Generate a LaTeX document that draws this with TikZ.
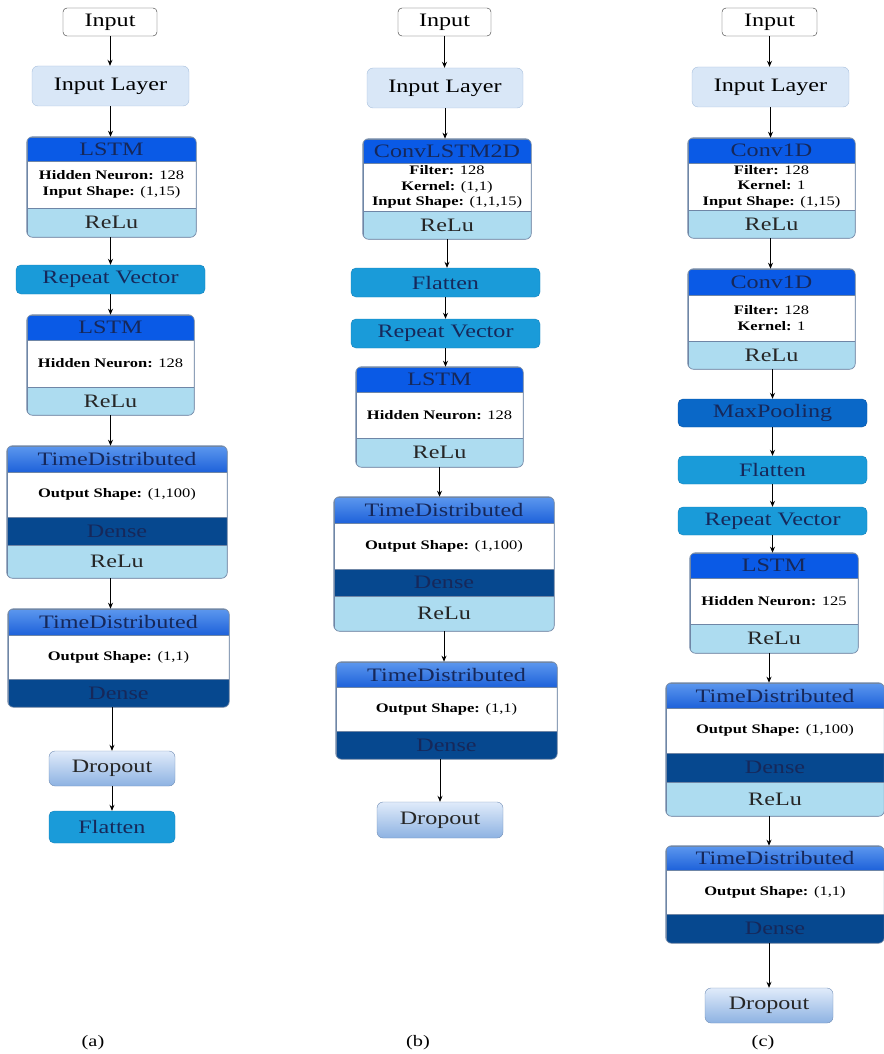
\documentclass[tikz,border=0pt]{standalone}
\usepackage{fontspec}
\setmainfont{Liberation Serif}[FakeStretch=1.27]
\usetikzlibrary{arrows.meta}

\definecolor{hdblue}{HTML}{0A5AE6}
\definecolor{tdtop}{HTML}{5C97EE}
\definecolor{tdbot}{HTML}{1E62DA}
\definecolor{navy}{HTML}{16285A}
\definecolor{relublue}{HTML}{ADDCF0}
\definecolor{densblue}{HTML}{06488F}
\definecolor{barblue}{HTML}{1A9BD9}
\definecolor{barline}{HTML}{1580B9}
\definecolor{poolblue}{HTML}{0A68C8}
\definecolor{layfill}{HTML}{D9E7F7}
\definecolor{layline}{HTML}{A8BFDC}
\definecolor{droptop}{HTML}{E0EBFA}
\definecolor{dropbot}{HTML}{8DB2E2}
\definecolor{framecol}{HTML}{6F86A6}

\newcommand{\bigfont}{\fontsize{19}{22}\selectfont}
\newcommand{\smallfont}{\fontsize{13}{15.5}\selectfont}
\newcommand{\blockframe}[2]{%
  \fill[white,even odd rule] ([shift={(-3,-3)}]#1.north west) rectangle ([shift={(3,3)}]#2.south east)
    [rounded corners=6pt] (#1.north west) rectangle (#2.south east);
  \draw[framecol,line width=0.7pt,rounded corners=6pt] (#1.north west) rectangle (#2.south east);}

\tikzset{
  band/.style={draw=framecol, line width=0.6pt, inner sep=0pt, align=center, minimum width=#1pt},
  hdband/.style={band=#1, fill=hdblue, text=navy, font=\bigfont},
  tdband/.style={band=#1, top color=tdtop, bottom color=tdbot, text=navy, font=\bigfont},
  bodyband/.style={band=#1, fill=white, text=black, font=\smallfont},
  reluband/.style={band=#1, fill=relublue, text=black!85, font=\bigfont},
  denseband/.style={band=#1, fill=densblue, text=navy, font=\bigfont},
  inbox/.style={draw=black!80, fill=white, rounded corners=4pt, inner sep=0pt,
    minimum width=94pt, minimum height=28pt, font=\bigfont},
  layerbox/.style={draw=layline, fill=layfill, rounded corners=6pt, inner sep=0pt,
    minimum width=157pt, minimum height=40pt, font=\bigfont},
  barbox/.style={draw=barline, fill=barblue, rounded corners=5pt, inner sep=0pt,
    minimum width=189pt, minimum height=29pt, font=\bigfont, text=navy},
  poolbox/.style={barbox, draw=poolblue!80!black, fill=poolblue},
  dropbox/.style={draw=dropbot!80!black, top color=droptop, bottom color=dropbot, rounded corners=6pt,
    inner sep=0pt, minimum width=126pt, minimum height=35pt, font=\bigfont, text=black!85},
  caption/.style={font=\fontsize{16}{18}\selectfont},
  arr/.style={-{Stealth[length=6pt,width=5pt]}, line width=0.8pt, black}
}

\begin{document}
\begin{tikzpicture}[x=1pt,y=-1pt]
  \useasboundingbox (0,0) rectangle (883,1054);

  % (a)
  \node[inbox] (inA) at (110,22) {Input};
  \node[layerbox] (layA) at (110.5,86) {Input Layer};
  \node[hdband=169, minimum height=24pt] (lstmA-h) at (111.5,149) {LSTM};
  \node[bodyband=169, minimum height=47pt] (lstmA-b) at (111.5,184.5) {\textbf{Hidden Neuron:} 128\\\textbf{Input Shape:} (1,15)};
  \node[reluband=169, minimum height=29pt] (lstmA-r) at (111.5,222.5) {ReLu};
  \blockframe{lstmA-h}{lstmA-r}
  \node[barbox] (repA) at (110.5,279.5) {Repeat Vector};
  \node[hdband=167, minimum height=25pt] (lstm2A-h) at (110.5,327.5) {LSTM};
  \node[bodyband=167, minimum height=47pt] (lstm2A-b) at (110.5,363.5) {\textbf{Hidden Neuron:} 128};
  \node[reluband=167, minimum height=28pt] (lstm2A-r) at (110.5,401) {ReLu};
  \blockframe{lstm2A-h}{lstm2A-r}
  \node[tdband=220, minimum height=26pt] (td1A-h) at (117,459) {TimeDistributed};
  \node[bodyband=220, minimum height=45pt] (td1A-b) at (117,494.5) {\textbf{Output Shape:} (1,100)};
  \node[denseband=220, minimum height=28pt] (td1A-d) at (117,531) {Dense};
  \node[reluband=220, minimum height=33pt] (td1A-r) at (117,561.5) {ReLu};
  \blockframe{td1A-h}{td1A-r}
  \node[tdband=221, minimum height=26pt] (td2A-h) at (118.5,622) {TimeDistributed};
  \node[bodyband=221, minimum height=44pt] (td2A-b) at (118.5,657) {\textbf{Output Shape:} (1,1)};
  \node[denseband=221, minimum height=28pt] (td2A-d) at (118.5,693) {Dense};
  \blockframe{td2A-h}{td2A-d}
  \node[dropbox] (dropA) at (112,768.5) {Dropout};
  \node[barbox, minimum width=126pt, minimum height=32pt] (flatA) at (112,827) {Flatten};
  \node[caption] (capA) at (93,1043) {(a)};

  \draw[arr] (inA.south) -- (inA.south |- layA.north);
  \draw[arr] (layA.south) -- (layA.south |- lstmA-h.north);
  \draw[arr] (layA.south |- lstmA-r.south) -- (layA.south |- repA.north);
  \draw[arr] (repA.south) -- (repA.south |- lstm2A-h.north);
  \draw[arr] (lstm2A-r.south) -- (lstm2A-r.south |- td1A-h.north);
  \draw[arr] (td1A-r.south -| lstm2A-r.south) -- (lstm2A-r.south |- td2A-h.north);
  \draw[arr] (td2A-d.south -| dropA.north) -- (dropA.north);
  \draw[arr] (dropA.south) -- (flatA.north);

  % (b)
  \node[inbox, minimum width=93pt] (inB) at (444.5,22) {Input};
  \node[layerbox, minimum width=156pt] (layB) at (445,88) {Input Layer};
  \node[hdband=168, minimum height=24pt] (convB-h) at (447,151) {ConvLSTM2D};
  \node[bodyband=168, minimum height=48pt] (convB-b) at (447,187) {\textbf{Filter:} 128\\\textbf{Kernel:} (1,1)\\\textbf{Input Shape:} (1,1,15)};
  \node[reluband=168, minimum height=28pt] (convB-r) at (447,225) {ReLu};
  \blockframe{convB-h}{convB-r}
  \node[barbox] (flatB) at (445.5,282.5) {Flatten};
  \node[barbox] (repB) at (445.5,333.5) {Repeat Vector};
  \node[hdband=167, minimum height=25pt] (lstmB-h) at (439.5,379.5) {LSTM};
  \node[bodyband=167, minimum height=46pt] (lstmB-b) at (439.5,415) {\textbf{Hidden Neuron:} 128};
  \node[reluband=167, minimum height=29pt] (lstmB-r) at (439.5,452.5) {ReLu};
  \blockframe{lstmB-h}{lstmB-r}
  \node[tdband=220, minimum height=26pt] (td1B-h) at (444,510) {TimeDistributed};
  \node[bodyband=220, minimum height=46pt] (td1B-b) at (444,546) {\textbf{Output Shape:} (1,100)};
  \node[denseband=220, minimum height=27pt] (td1B-d) at (444,582.5) {Dense};
  \node[reluband=220, minimum height=35pt] (td1B-r) at (444,613.5) {ReLu};
  \blockframe{td1B-h}{td1B-r}
  \node[tdband=221, minimum height=25pt] (td2B-h) at (446.5,674.5) {TimeDistributed};
  \node[bodyband=221, minimum height=44pt] (td2B-b) at (446.5,709) {\textbf{Output Shape:} (1,1)};
  \node[denseband=221, minimum height=28pt] (td2B-d) at (446.5,745) {Dense};
  \blockframe{td2B-h}{td2B-d}
  \node[dropbox, minimum height=36pt] (dropB) at (440,820) {Dropout};
  \node[caption] (capB) at (418,1043) {(b)};

  \draw[arr] (inB.south) -- (inB.south |- layB.north);
  \draw[arr] (layB.south) -- (layB.south |- convB-h.north);
  \draw[arr] (convB-r.south) -- (convB-r.south |- flatB.north);
  \draw[arr] (flatB.south) -- (flatB.south |- repB.north);
  \draw[arr] (repB.south) -- (repB.south |- lstmB-h.north);
  \draw[arr] (lstmB-r.south) -- (lstmB-r.south |- td1B-h.north);
  \draw[arr] (td1B-r.south) -- (td1B-r.south |- td2B-h.north);
  \draw[arr] (td2B-d.south -| dropB.north) -- (dropB.north);

  % (c)
  \node[inbox, minimum width=95pt] (inC) at (769.5,22) {Input};
  \node[layerbox] (layC) at (770.5,87) {Input Layer};
  \node[hdband=167, minimum height=25pt] (conv1C-h) at (771.5,150.5) {Conv1D};
  \node[bodyband=167, minimum height=47pt] (conv1C-b) at (771.5,186.5) {\textbf{Filter:} 128\\\textbf{Kernel:} 1\\\textbf{Input Shape:} (1,15)};
  \node[reluband=167, minimum height=28pt] (conv1C-r) at (771.5,224) {ReLu};
  \blockframe{conv1C-h}{conv1C-r}
  \node[hdband=167, minimum height=26pt] (conv2C-h) at (771.5,282) {Conv1D};
  \node[bodyband=167, minimum height=46pt] (conv2C-b) at (771.5,318) {\textbf{Filter:} 128\\\textbf{Kernel:} 1};
  \node[reluband=167, minimum height=28pt] (conv2C-r) at (771.5,355) {ReLu};
  \blockframe{conv2C-h}{conv2C-r}
  \node[poolbox, minimum height=28pt] (poolC) at (772.5,413) {MaxPooling};
  \node[barbox, minimum height=28pt] (flatC) at (772.5,470) {Flatten};
  \node[barbox, minimum height=28pt] (repC) at (772.5,521) {Repeat Vector};
  \node[hdband=168, minimum height=25pt] (lstmC-h) at (774,565.5) {LSTM};
  \node[bodyband=168, minimum height=46pt] (lstmC-b) at (774,601) {\textbf{Hidden Neuron:} 125};
  \node[reluband=168, minimum height=29pt] (lstmC-r) at (774,638.5) {ReLu};
  \blockframe{lstmC-h}{lstmC-r}
  \node[tdband=218, minimum height=25pt] (td1C-h) at (775,695.5) {TimeDistributed};
  \node[bodyband=218, minimum height=45pt] (td1C-b) at (775,730.5) {\textbf{Output Shape:} (1,100)};
  \node[denseband=218, minimum height=29pt] (td1C-d) at (775,767.5) {Dense};
  \node[reluband=218, minimum height=34pt] (td1C-r) at (775,799) {ReLu};
  \blockframe{td1C-h}{td1C-r}
  \node[tdband=218, minimum height=24pt] (td2C-h) at (775,858) {TimeDistributed};
  \node[bodyband=218, minimum height=44pt] (td2C-b) at (775,892) {\textbf{Output Shape:} (1,1)};
  \node[denseband=218, minimum height=29pt] (td2C-d) at (775,928.5) {Dense};
  \blockframe{td2C-h}{td2C-d}
  \node[dropbox, minimum width=128pt] (dropC) at (769,1005.5) {Dropout};
  \node[caption] (capC) at (763,1043) {(c)};

  \draw[arr] (inC.south) -- (inC.south |- layC.north);
  \draw[arr] (layC.south) -- (layC.south |- conv1C-h.north);
  \draw[arr] (conv1C-r.south -| layC.south) -- (layC.south |- conv2C-h.north);
  \draw[arr] (conv2C-r.south -| poolC.north) -- (poolC.north);
  \draw[arr] (poolC.south) -- (flatC.north);
  \draw[arr] (flatC.south) -- (repC.north);
  \draw[arr] (repC.south) -- (repC.south |- lstmC-h.north);
  \draw[arr] (lstmC-r.south -| dropC.north) -- (dropC.north |- td1C-h.north);
  \draw[arr] (td1C-r.south -| dropC.north) -- (dropC.north |- td2C-h.north);
  \draw[arr] (td2C-d.south -| dropC.north) -- (dropC.north);
\end{tikzpicture}
\end{document}
